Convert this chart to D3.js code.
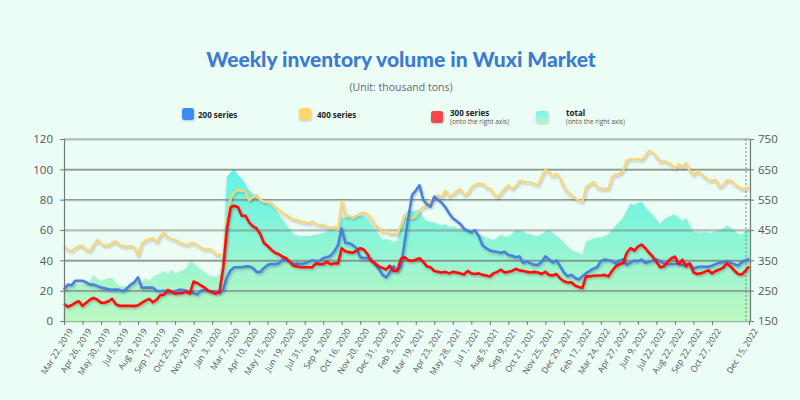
<!DOCTYPE html>
<html><head><meta charset="utf-8">
<script src="https://cdn.jsdelivr.net/npm/d3@7"></script>
<style>
html,body{margin:0;padding:0;background:#ecfdf6;}
svg{display:block;}
</style></head><body>
<svg id="c" width="800" height="400"></svg>
<script>
const tickLabels = ["Mar 22, 2019","Apr 26, 2019","May 30, 2019","Jul 5, 2019","Aug 9, 2019","Sep 12, 2019","Oct 25, 2019","Nov 29, 2019","Jan 3, 2020","Mar 7, 2020","Apr 10, 2020","May 15, 2020","Jun 19, 2020","Jul 31, 2020","Sep 4, 2020","Oct 16, 2020","Nov 20, 2020","Dec 31, 2020","Feb 5, 2021","Mar 19, 2021","Apr 23, 2021","May 28, 2021","Jul 1, 2021","Aug 5, 2021","Sep 9, 2021","Oct 21, 2021","Nov 25, 2021","Dec 29, 2021","Feb 17, 2022","Mar 24, 2022","Apr 27, 2022","Jun 9, 2022","Jul 22, 2022","Aug 22, 2022","Sep 22, 2022","Oct 27, 2022","Dec 15, 2022"];
const leftTicks = [0,20,40,60,80,100,120];
const rightTicks = [150,250,350,450,550,650,750];

// 400 series (left axis)
const s400 = [49.5,47,46,48,49.5,49.5,47,46,50,53.5,
51,49.5,50,51.5,52.5,50,49.5,49,49.5,48.5,
43,51,53,54,54.5,52,56,58.5,55,54,
53.5,52,51,50,51,51.5,50,48.5,47,47.5,
47,43.5,44,42,65,81,85,86.5,86,85.5,
79.5,82,83,80,78.5,78.5,77.5,75,73.5,71,
70,68,67,66.5,65.5,65,64.5,65.5,64,63,
63.5,62,61.5,62,60.5,79,69,69.5,68,69.5,
71,71.5,70,67.5,63,61.5,58.5,59.5,57.5,57.5,
57.5,63,70,68.5,67.7,69,73,75,76,79.5,
81,83,81.5,86,82,83.5,85.5,87,83,84,
88,90,90.6,90.5,88,87.5,84,81.5,84,87.3,
89.5,87,89,92.5,92,91.5,91.5,90.5,89.5,95,
100,98,95.5,97,94,88,85,83,81,79.5,
78.6,88.4,90,91.7,88,87,87.3,87,95,96.5,
97,99,106,107,106.5,107,106,109,112.4,111,
108,105,105.5,104.5,103,100.5,103.5,101.5,104,99,
96,99,97,95,92.8,92.5,93,88.4,89.5,92.8,
92.5,90.5,88.5,87,87.3,88.4];

// 200 series (left axis)
const s200 = [20.7,24,23.5,26.5,26.5,26.5,25.5,24,24,23,
22,21.5,21,20.5,20.7,20.5,19.6,21.5,24,25.5,
28.8,21.8,22,22,22,20,19.6,20,19,19,
19.6,20.5,20.5,20,19.6,18.5,17.5,20,20.5,19.8,
19.6,19.6,18.5,20.5,29,33.5,35.4,35.4,35.4,36,
36,35,32.3,32.3,35,37,37.5,37.5,38,40.5,
40,39,37.5,38,37.5,38,39,40,39.5,39.5,
41.5,42,43,46,50,61,51.5,51.3,50,48,
42,41.5,41.5,40.5,37.5,34.5,30.5,28.8,32,36,
33,36,52,68,83,86,89.5,80,77,75.3,
82,80,78,75,71,67.7,66,64,61,59.5,
58.5,60,56,50,48,46.5,46,45.5,45,45.7,
43.5,43,42,42.6,38.2,39.3,38,37,37,39,
42.6,40.5,38.5,40,36,32,29.5,30.5,28.5,27.3,
29.5,31.5,33,34.5,35.5,39.5,40.5,40,39.5,38,
39.8,40.5,37,38.5,39.8,39.5,40.5,38.3,39,39.8,
40.5,39.5,38,37.6,37.6,37.6,38.6,36.7,37.6,37.5,
34.5,35.5,35.8,35.8,35.8,36.5,37.5,38.5,38.8,39.3,
38.5,37.5,36.5,38.6,40,41];

// 300 series (right axis)
const s300 = [207,197,202,210,215,200,210,220,226,220,
210,210,215,223,205,200,200,200,200,199,
202,210,217,223,212,220,235,237,252,247,
240,242,242,247,240,280,275,267,260,250,
245,240,247,325,455,525,530,525,497,497,
475,462,455,437,407,397,385,375,370,362,
357,345,332,330,327,327,327,327,340,337,
337,345,337,340,340,390,380,377,375,382,
390,385,370,347,340,330,325,320,332,315,
315,355,360,350,348,352,357,345,330,327,
315,312,310,312,307,312,310,307,303,315,
307,305,307,302,300,297,307,312,319,310,
312,315,322,317,315,312,310,312,310,305,
312,302,300,305,290,281,277,278,267,262,
259,297,297,299,300,300,302,297,315,330,
337,341,375,390,382,395,402,390,375,362,
345,327,330,345,357,362,337,352,330,340,
310,305,307,312,317,307,315,320,325,340,
330,317,305,303,315,330];

// total (right axis)
const total = [262,265,267,275,267,270,272,280,302,287,
282,287,292,292,272,265,265,265,275,280,
280,275,292,280,297,302,307,314,305,319,
307,312,317,322,347,340,330,320,310,302,
297,297,302,375,625,640,649,630,620,600,
580,570,557,545,540,537,532,520,502,485,
467,450,437,432,430,430,430,432,435,437,
440,445,447,445,440,490,492,495,495,495,
497,495,487,470,450,435,417,420,417,410,
415,465,500,515,510,515,515,490,480,477,
475,470,465,470,460,462,457,455,455,450,
445,442,437,431,425,420,417,425,435,427,
430,437,450,450,445,437,437,430,430,437,
445,450,440,430,420,410,395,385,380,375,
368,412,417,422,425,425,430,435,450,465,
477,490,515,537,532,540,543,525,510,500,
485,470,485,492,497,500,490,480,490,465,
440,445,440,445,440,442,445,450,455,465,
457,450,437,435,445,455];

const N = s400.length;
const tickIdx = tickLabels.map((d,i)=> i < tickLabels.length-1 ? i*5 : N-1);

const svg = d3.select("#c");
const defs = svg.append("defs");
function shadow(id, dx, dy, blur, op){
  const f = defs.append("filter").attr("id",id).attr("x","-10%").attr("y","-10%").attr("width","130%").attr("height","140%");
  f.append("feDropShadow").attr("dx",dx).attr("dy",dy).attr("stdDeviation",blur).attr("flood-color","#000").attr("flood-opacity",op);
}
shadow("sh",1,1.5,1,0.25);
shadow("shA",0.5,1,1,0.22);
shadow("shG",0,1,0.6,0.25);

const L = 64, R = 750, T = 139, B = 321;
const x = d3.scalePoint().domain(d3.range(N)).range([L, 749]);
const yL = d3.scaleLinear().domain([0,120]).range([B,T]);
const yR = d3.scaleLinear().domain([150,750]).range([B,T]);

const grad = defs.append("linearGradient").attr("id","ag").attr("gradientUnits","userSpaceOnUse")
  .attr("x1",0).attr("x2",0).attr("y1",T).attr("y2",B);
grad.append("stop").attr("offset","0%").attr("stop-color","#4ef3ee");
grad.append("stop").attr("offset","30%").attr("stop-color","#6ff4e2");
grad.append("stop").attr("offset","65%").attr("stop-color","#98f5d2");
grad.append("stop").attr("offset","100%").attr("stop-color","#bdf8c2");

const lg = defs.append("linearGradient").attr("id","lg").attr("x1",0).attr("x2",0).attr("y1",0).attr("y2",1);
lg.append("stop").attr("offset","0%").attr("stop-color","#74f5ee");
lg.append("stop").attr("offset","100%").attr("stop-color","#b6f6cf");

// Title
svg.append("text").attr("x",401).attr("y",67).attr("text-anchor","middle")
  .style("font-family","Lato, 'Open Sans', sans-serif").style("font-weight","900").style("font-size","21px")
  .attr("fill","#3d7bd0").text("Weekly inventory volume in Wuxi Market");
svg.append("text").attr("x",401).attr("y",91).attr("text-anchor","middle")
  .style("font-family","'Open Sans', sans-serif").style("font-size","10.5px")
  .attr("fill","#666").text("(Unit: thousand tons)");

// Legend
const legend = [
  {name:"200 series", sub:null, color:"#3d8bef", x:182, tx:198},
  {name:"400 series", sub:null, color:"#ffd56c", x:299, tx:317},
  {name:"300 series", sub:"(onto the right axis)", color:"#f5474a", x:431, tx:450},
  {name:"total", sub:"(onto the right axis)", color:"url(#lg)", x:536, tx:566}
];
legend.forEach(d=>{
  const dy = d.sub ? 3 : 0;
  svg.append("rect").attr("x",d.x).attr("y",108+dy).attr("width",12).attr("height",12).attr("rx",2.5)
    .attr("fill",d.color).attr("filter","url(#shA)");
  svg.append("text").attr("x",d.tx).attr("y",d.sub?115.5:117.5)
    .style("font-family","'Open Sans', sans-serif").style("font-weight","700").style("font-size","8px")
    .attr("fill","#222").text(d.name);
  if(d.sub) svg.append("text").attr("x",d.tx).attr("y",123.5)
    .style("font-family","'Open Sans', sans-serif").style("font-size","6.5px")
    .attr("fill","#555").text(d.sub);
});

// Area (total)
const area = d3.area().x((d,i)=>x(i)).y0(B).y1(d=>yR(d)).curve(d3.curveLinear);
svg.append("path").datum(total).attr("d",area).attr("fill","url(#ag)").attr("filter","url(#shA)");

// gridlines
const grid = svg.append("g").attr("filter","url(#shG)");
grid.selectAll("line").data(leftTicks.filter(d=>d>0)).join("line")
  .attr("x1",L).attr("x2",R).attr("y1",d=>yL(d)).attr("y2",d=>yL(d))
  .attr("stroke","#8d9893").attr("stroke-width",1.1);

// dashed marker near the last point
svg.append("line").attr("x1",x(N-1)-3).attr("x2",x(N-1)-3).attr("y1",T).attr("y2",B)
  .attr("stroke","#7a8681").attr("stroke-width",1).attr("stroke-dasharray","2,2");

// lines
const lineL = d3.line().x((d,i)=>x(i)).y(d=>yL(d));
const lineR = d3.line().x((d,i)=>x(i)).y(d=>yR(d));
svg.append("path").datum(s400).attr("d",lineL).attr("fill","none").attr("stroke","#f7d57d")
  .attr("stroke-width",2.2).attr("stroke-linejoin","round").attr("filter","url(#sh)");
svg.append("path").datum(s200).attr("d",lineL).attr("fill","none").attr("stroke","#4a80dc")
  .attr("stroke-width",2.6).attr("stroke-linejoin","round").attr("filter","url(#sh)");
svg.append("path").datum(s300).attr("d",lineR).attr("fill","none").attr("stroke","#ff0a0a")
  .attr("stroke-width",2.6).attr("stroke-linejoin","round").attr("filter","url(#sh)");

// axes
const axFont = "'Open Sans', sans-serif";
const gL = svg.append("g").attr("transform",`translate(${L},0)`)
  .call(d3.axisLeft(yL).tickValues(leftTicks).tickSize(4).tickPadding(7));
const gR = svg.append("g").attr("transform",`translate(${R},0)`)
  .call(d3.axisRight(yR).tickValues(rightTicks).tickSize(4).tickPadding(4));
const gB = svg.append("g").attr("transform",`translate(0,${B})`)
  .call(d3.axisBottom(x).tickValues(tickIdx).tickFormat(d=>tickLabels[tickIdx.indexOf(d)]).tickSize(4).tickPadding(3));
[gL,gR,gB].forEach(g=>{
  g.select(".domain").attr("stroke","#6f7a76").attr("stroke-width",1.2);
  g.selectAll(".tick line").attr("stroke","#6f7a76");
  g.selectAll("text").style("font-family",axFont).attr("fill","#555");
});
gL.selectAll("text").style("font-size","11.5px");
gR.selectAll("text").style("font-size","11.5px");
gB.select(".domain").attr("stroke","#8db99a");
gB.selectAll("text").style("font-size","8.6px")
  .attr("text-anchor","end").attr("dx","0").attr("dy","0")
  .attr("transform","translate(3,6) rotate(-58)");
</script>
</body></html>
